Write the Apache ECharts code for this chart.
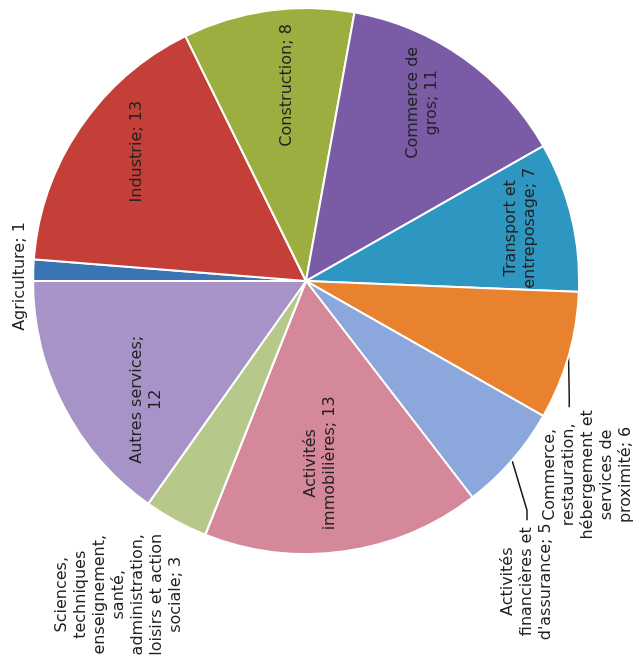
<!DOCTYPE html>
<html>
<head>
<meta charset="utf-8">
<script src="https://cdn.jsdelivr.net/npm/echarts@6/dist/echarts.min.js"></script>
<style>
html, body { margin: 0; padding: 0; background: #fff; overflow: hidden; }
#wrap { position: relative; width: 639px; height: 664px; overflow: hidden; }
/* le graphique d'origine est tourne d'un quart de tour sur la page */
#chart { position: absolute; left: 0; top: 0; width: 664px; height: 639px;
  transform-origin: 0 0; transform: translateY(664px) rotate(-90deg); }
</style>
</head>
<body>
<div id="wrap"><div id="chart"></div></div>
<script>
// secteurs dans l'ordre du camembert (sens horaire depuis midi)
const categories = [
  'Agriculture', 'Industrie', 'Construction', 'Commerce de gros',
  'Transport et entreposage',
  'Commerce, restauration, hébergement et services de proximité',
  "Activités financières et d'assurance", 'Activités immobilières',
  'Sciences, techniques enseignement, santé, administration, loisirs et action sociale',
  'Autres services'
];
const values = [1, 13, 8, 11, 7, 6, 5, 13, 3, 12];
// libelles coupes comme sur l'original, # = valeur
const labelWraps = [
  'Agriculture; #', 'Industrie; #', 'Construction; #', 'Commerce de\ngros; #',
  'Transport et\nentreposage; #',
  'Commerce,\nrestauration,\nhébergement et\nservices de\nproximité; #',
  "Activités\nfinancières et\nd'assurance; #", 'Activités\nimmobilières; #',
  'Sciences,\ntechniques\nenseignement,\nsanté,\nadministration,\nloisirs et action\nsociale; #',
  'Autres services;\n#'
];
const colors = ['#3a74b2', '#c33f38', '#9bae3f', '#7a5ca6', '#2d97c2',
  '#e8822f', '#8ba7dc', '#d4889a', '#b6c98a', '#a893c9'];

// placement des etiquettes : [angle depuis midi (deg), distance / rayon]
const cx = 383, cy = 306, R = 273, lineH = 19;
const labelSpot = [[0.9, 1.048], [37.4, 0.78], [84.4, 0.72], [123.2, 0.78], [166.2, 0.81],
  [214.5, 1.254], [233.7, 1.367], [265.6, 0.67], [300.8, 1.338], [323.4, 0.73]];
const outside = [0, 5, 6, 8];
const hooks = {5: -1, 6: 0}; // ligne de rappel -> ligne du libelle

function spot(i) {
  const a = labelSpot[i][0] * Math.PI / 180, d = labelSpot[i][1] * R;
  return [cx + d * Math.sin(a), cy - d * Math.cos(a)];
}

const chart = echarts.init(document.getElementById('chart'));
chart.setOption({
  animation: false,
  backgroundColor: '#fff',
  series: [{
    type: 'pie',
    center: [cx, cy],
    radius: R,
    startAngle: 90,
    clockwise: true,
    avoidLabelOverlap: false,
    itemStyle: { borderColor: '#fff', borderWidth: 2 },
    label: {
      fontFamily: 'DejaVu Sans',
      fontSize: 16,
      lineHeight: lineH,
      color: '#222',
      formatter: p => labelWraps[p.dataIndex].replace('#', p.value)
    },
    labelLine: { lineStyle: { color: '#1a1a1a', width: 1.5 } },
    labelLayout: function (p) {
      const [x, y] = spot(p.dataIndex);
      const out = { x: x, y: y, align: 'center', verticalAlign: 'middle' };
      const h = hooks[p.dataIndex];
      if (h !== undefined && p.labelLinePoints) {
        const ex = x + p.labelRect.width / 2 + 3;
        const ey = y + h * lineH;
        out.labelLinePoints = [p.labelLinePoints[0], [ex + 10, ey], [ex, ey]];
      }
      return out;
    },
    data: values.map((v, i) => ({
      name: categories[i],
      value: v,
      itemStyle: { color: colors[i] },
      label: { position: outside.includes(i) ? 'outside' : 'inside' },
      labelLine: { show: hooks[i] !== undefined }
    }))
  }]
});
</script>
</body>
</html>
